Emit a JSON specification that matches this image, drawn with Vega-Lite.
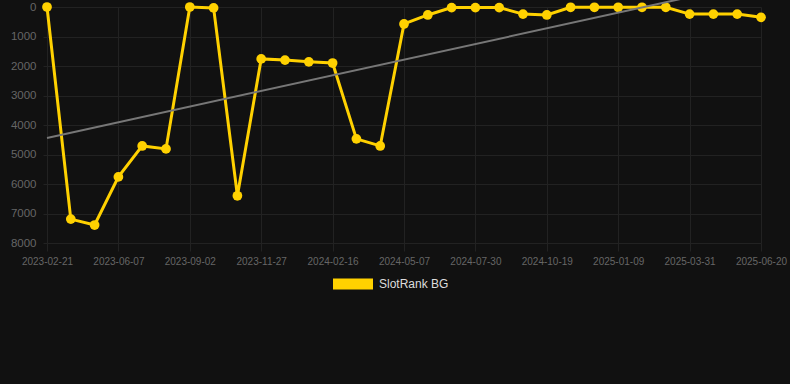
{
  "$schema": "https://vega.github.io/schema/vega-lite/v6.json",
  "width": 714,
  "height": 236,
  "autosize": "none",
  "padding": {"left": 47, "top": 7, "right": 29, "bottom": 141},
  "background": "#111111",
  "config": {
    "view": {"stroke": null},
    "font": "Liberation Sans",
    "axis": {
      "gridColor": "#222222",
      "gridWidth": 1,
      "tickColor": "#222222",
      "domain": false,
      "labelColor": "#666666",
      "labelFont": "Liberation Sans",
      "labelOverlap": false,
      "title": null
    }
  },
  "encoding": {
    "x": {
      "field": "date",
      "type": "ordinal",
      "scale": {"type": "point", "padding": 0},
      "axis": {
        "values": ["2023-02-21", "2023-06-07", "2023-09-02", "2023-11-27", "2024-02-16", "2024-05-07", "2024-07-30", "2024-10-19", "2025-01-09", "2025-03-31", "2025-06-20"],
        "labelAngle": 0,
        "labelFontSize": 10,
        "tickSize": 8,
        "labelPadding": 5,
        "grid": true
      }
    },
    "y": {
      "field": "rank",
      "type": "quantitative",
      "scale": {"domain": [0, 8000], "reverse": true, "nice": false, "zero": false},
      "axis": {
        "values": [0, 1000, 2000, 3000, 4000, 5000, 6000, 7000, 8000],
        "format": "d",
        "labelFontSize": 11.5,
        "tickSize": 4,
        "labelPadding": 7,
        "grid": true
      }
    }
  },
  "layer": [
    {
      "data": {
        "values": [
          {"date": "2023-02-21", "rank": 0},
          {"date": "2023-03-28", "rank": 7190},
          {"date": "2023-05-02", "rank": 7390},
          {"date": "2023-06-07", "rank": 5760},
          {"date": "2023-07-06", "rank": 4710},
          {"date": "2023-08-04", "rank": 4810},
          {"date": "2023-09-02", "rank": 0},
          {"date": "2023-10-01", "rank": 30},
          {"date": "2023-10-29", "rank": 6400},
          {"date": "2023-11-27", "rank": 1760},
          {"date": "2023-12-24", "rank": 1800},
          {"date": "2024-01-20", "rank": 1860},
          {"date": "2024-02-16", "rank": 1900},
          {"date": "2024-03-13", "rank": 4470},
          {"date": "2024-04-10", "rank": 4710},
          {"date": "2024-05-07", "rank": 575},
          {"date": "2024-06-04", "rank": 270},
          {"date": "2024-07-02", "rank": 20},
          {"date": "2024-07-30", "rank": 20},
          {"date": "2024-08-26", "rank": 20},
          {"date": "2024-09-22", "rank": 240},
          {"date": "2024-10-19", "rank": 270},
          {"date": "2024-11-15", "rank": 10},
          {"date": "2024-12-12", "rank": 10},
          {"date": "2025-01-09", "rank": 10},
          {"date": "2025-02-05", "rank": 10},
          {"date": "2025-03-04", "rank": 10},
          {"date": "2025-03-31", "rank": 240},
          {"date": "2025-04-27", "rank": 240},
          {"date": "2025-05-24", "rank": 240},
          {"date": "2025-06-20", "rank": 350}
        ]
      },
      "mark": {
        "type": "line",
        "strokeWidth": 3,
        "point": {"filled": true, "size": 95, "opacity": 1}
      },
      "encoding": {
        "color": {
          "datum": "SlotRank BG",
          "scale": {"range": ["#FFD100"]},
          "legend": {
            "orient": "none",
            "legendX": 286,
            "legendY": 257,
            "title": null,
            "symbolType": "M-1,-0.275L1,-0.275L1,0.275L-1,0.275Z",
            "symbolSize": 1600,
            "symbolFillColor": "#FFD100",
            "symbolStrokeColor": "#FFD100",
            "symbolStrokeWidth": 0,
            "symbolOpacity": 1,
            "labelColor": "#dddddd",
            "labelFontSize": 12,
            "labelOffset": 6,
            "labelFont": "Liberation Sans"
          }
        }
      }
    },
    {
      "data": {
        "values": [
          {"date": "2023-02-21", "rank": 4438},
          {"date": "2025-06-20", "rank": -869}
        ]
      },
      "mark": {"type": "line", "color": "#777777", "strokeWidth": 2, "clip": false},
      "encoding": {}
    }
  ]
}
